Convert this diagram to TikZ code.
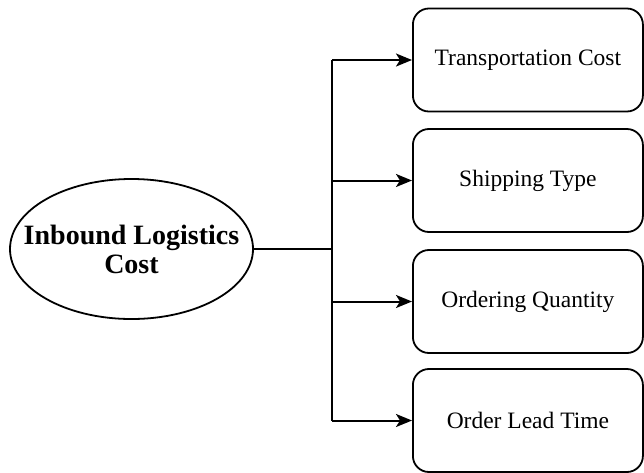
\documentclass[tikz,border=0pt]{standalone}
\usepackage{fontspec}
\setmainfont{Liberation Serif}
\usetikzlibrary{arrows.meta,shapes.geometric}
\tikzset{
  factor/.style={draw, line width=1.8pt, rounded corners=16pt,
    minimum width=230pt, minimum height=103pt, anchor=west,
    font=\fontsize{23.5}{28}\selectfont},
  hub/.style={draw, ellipse, line width=1.8pt, minimum width=243pt,
    minimum height=140pt, inner sep=0pt},
  hubtext/.style={align=center, font=\bfseries\fontsize{28}{29}\selectfont},
  link/.style={line width=2pt},
  feed/.style={link, -{Stealth[length=16pt,width=13pt,inset=4pt]}}
}
\begin{document}
\begin{tikzpicture}[x=1pt,y=-1pt]
\useasboundingbox (0,0) rectangle (644,472);
\node[hub] (root) at (131.5,249) {};
\node[hubtext] (title) at (root.center) {Inbound Logistics\\Cost};
\node[factor] (b1) at (412,60) {Transportation Cost};
\node[factor] (b2) at (412,180.5) {Shipping Type};
\node[factor] (b3) at (412,301.5) {Ordering Quantity};
\node[factor] (b4) at (412,420.5) {Order Lead Time};
\coordinate (trunk) at (332,249);
\draw[link] (root.east) -- (trunk);
\draw[link] (trunk |- b1.west) -- (trunk |- b4.west);
\foreach \b in {b1,b2,b3,b4}
  \draw[feed] (trunk |- \b.west) -- (\b.west);
\end{tikzpicture}
\end{document}
